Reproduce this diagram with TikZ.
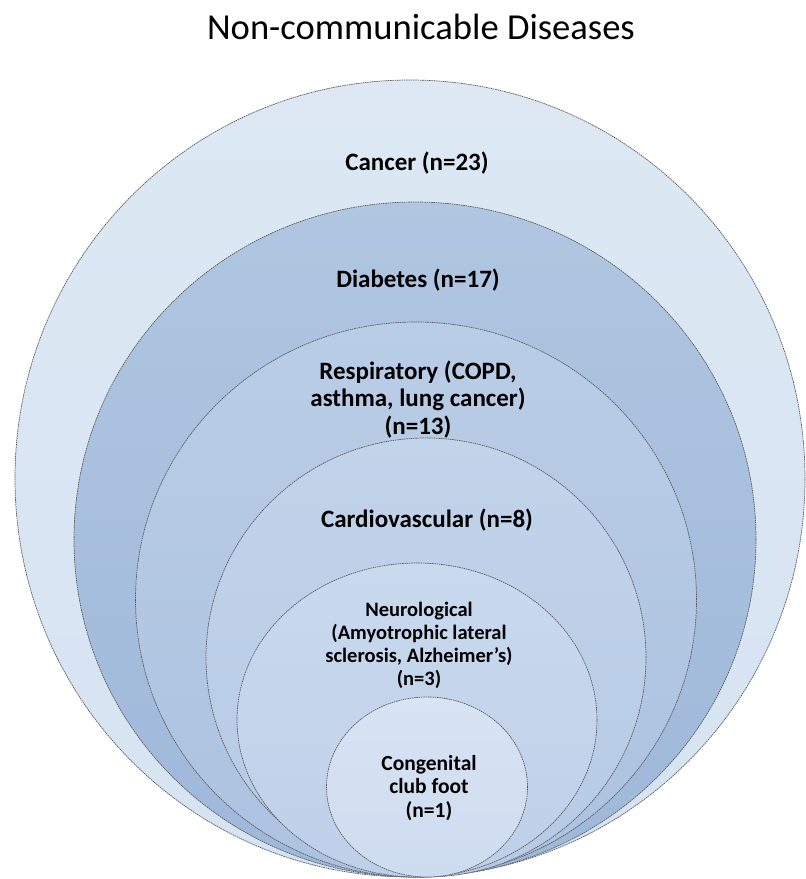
\documentclass[tikz,border=0pt]{standalone}
\usepackage{fontspec}
\setmainfont{Carlito}
\definecolor{cOut}{RGB}{221,232,244}
\definecolor{cOutB}{RGB}{214,227,242}
\definecolor{cDiaT}{RGB}{176,198,225}
\definecolor{cDiaB}{RGB}{158,184,218}
\definecolor{cResT}{RGB}{186,205,230}
\definecolor{cResB}{RGB}{172,194,224}
\definecolor{cCarT}{RGB}{194,212,234}
\definecolor{cCarB}{RGB}{182,202,229}
\definecolor{cNeuT}{RGB}{201,217,238}
\definecolor{cNeuB}{RGB}{190,208,233}
\definecolor{cConT}{RGB}{216,227,243}
\definecolor{cConB}{RGB}{206,220,240}
\definecolor{edge}{RGB}{95,95,100}
\tikzset{
  ring/.style={draw=edge, line width=0.7pt, dash pattern=on 1.6pt off 0.7pt},
  lab/.style={font=\bfseries\fontsize{25}{27.5}\selectfont, text=black, align=center, anchor=base},
  labn/.style={font=\bfseries\fontsize{20.5}{23}\selectfont, text=black, align=center, anchor=base},
  labc/.style={font=\bfseries\fontsize{21.5}{23.5}\selectfont, text=black, align=center, anchor=base},
}
\begin{document}
\begin{tikzpicture}[x=1pt,y=-1pt]
\useasboundingbox (0,0) rectangle (806,879);
\fill[white] (0,0) rectangle (806,879);
\path[ring, top color=cOut, bottom color=cOutB] (410,478.5) ellipse [x radius=395pt, y radius=398.5pt];
\path[ring, top color=cDiaT, bottom color=cDiaB] (415,539.5) ellipse [x radius=341pt, y radius=337.5pt];
\path[ring, top color=cResT, bottom color=cResB] (416,599.5) ellipse [x radius=280.5pt, y radius=277.5pt];
\path[ring, top color=cCarT, bottom color=cCarB] (426,657.5) ellipse [x radius=220pt, y radius=219.5pt];
\path[ring, top color=cNeuT, bottom color=cNeuB] (417,720) ellipse [x radius=180pt, y radius=157pt];
\path[ring, top color=cConT, bottom color=cConB] (427,787) ellipse [x radius=100.5pt, y radius=90pt];

\node[anchor=base, font=\fontsize{36.6}{42}\selectfont] (title) at (421,39) {Non-communicable Diseases};
\node[lab] (cancer) at (417,170) {Cancer (n=23)};
\node[lab] (diab) at (418,287) {Diabetes (n=17)};
\node[lab] (resp) at (418,434) {Respiratory (COPD,\\asthma, lung cancer)\\(n=13)};
\node[lab] (card) at (427,527) {Cardiovascular (n=8)};
\node[labn] (neuro) at (419,685) {Neurological\\(Amyotrophic lateral\\sclerosis, Alzheimer’s)\\(n=3)};
\node[labc] (cong) at (429,817) {Congenital\\club foot\\(n=1)};
\end{tikzpicture}
\end{document}
